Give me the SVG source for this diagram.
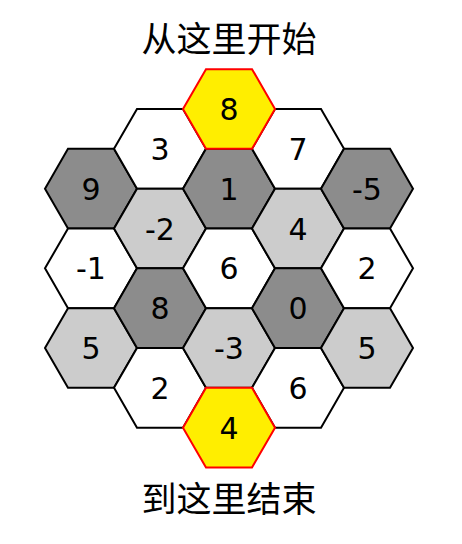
<svg xmlns="http://www.w3.org/2000/svg" xmlns:xlink="http://www.w3.org/1999/xlink" width="462" height="544" viewBox="0 0 462 544">
<style>
.h{stroke:#000;stroke-width:2;stroke-linejoin:miter}
.w{fill:#fff}.d{fill:#8c8c8c}.l{fill:#cccccc}
.y{fill:#ffee00;stroke:#ff0000;stroke-width:2}
.t{font-family:"DejaVu Sans",sans-serif;font-size:30px;text-anchor:middle;fill:#000}
.c{font-family:"Noto Sans CJK SC",sans-serif;font-size:35px;text-anchor:middle;fill:#000}
</style>
<defs>
<path id="hex" d="M-46,0 L-23,-39.84 L23,-39.84 L46,0 L23,39.84 L-23,39.84 Z"/>
</defs>
<rect width="462" height="544" fill="#fff"/>
<text class="c" x="229" y="52">从这里开始</text>
<text class="c" x="229" y="512">到这里结束</text>
<g id="n-9"><use href="#hex" class="h d" x="91" y="188.7"/><text class="t" x="91" y="199.5">9</text></g>
<g id="n-m1"><use href="#hex" class="h w" x="91" y="268.3"/><text class="t" x="91" y="279">-1</text></g>
<g id="n-5a"><use href="#hex" class="h l" x="91" y="348"/><text class="t" x="91" y="359">5</text></g>
<g id="n-3"><use href="#hex" class="h w" x="160" y="148.8"/><text class="t" x="160" y="159.5">3</text></g>
<g id="n-m2"><use href="#hex" class="h l" x="160" y="228.5"/><text class="t" x="160" y="239.5">-2</text></g>
<g id="n-8b"><use href="#hex" class="h d" x="160" y="308.2"/><text class="t" x="160" y="319">8</text></g>
<g id="n-2a"><use href="#hex" class="h w" x="160" y="387.8"/><text class="t" x="160" y="398.5">2</text></g>
<g id="n-1"><use href="#hex" class="h d" x="229" y="188.7"/><text class="t" x="229" y="199.5">1</text></g>
<g id="n-6a"><use href="#hex" class="h w" x="229" y="268.3"/><text class="t" x="229" y="279">6</text></g>
<g id="n-m3"><use href="#hex" class="h l" x="229" y="348"/><text class="t" x="229" y="359">-3</text></g>
<g id="n-7"><use href="#hex" class="h w" x="298" y="148.8"/><text class="t" x="298" y="159.5">7</text></g>
<g id="n-4a"><use href="#hex" class="h l" x="298" y="228.5"/><text class="t" x="298" y="239.5">4</text></g>
<g id="n-0"><use href="#hex" class="h d" x="298" y="308.2"/><text class="t" x="298" y="319">0</text></g>
<g id="n-6b"><use href="#hex" class="h w" x="298" y="387.8"/><text class="t" x="298" y="398.5">6</text></g>
<g id="n-m5"><use href="#hex" class="h d" x="367" y="188.7"/><text class="t" x="367" y="199.5">-5</text></g>
<g id="n-2b"><use href="#hex" class="h w" x="367" y="268.3"/><text class="t" x="367" y="279">2</text></g>
<g id="n-5b"><use href="#hex" class="h l" x="367" y="348"/><text class="t" x="367" y="359">5</text></g>
<g id="n-start"><use href="#hex" class="y" x="229" y="109"/><text class="t" x="229" y="120">8</text></g>
<g id="n-end"><use href="#hex" class="y" x="229" y="427.7"/><text class="t" x="229" y="438.5">4</text></g>
<g id="connectors"></g>
</svg>
